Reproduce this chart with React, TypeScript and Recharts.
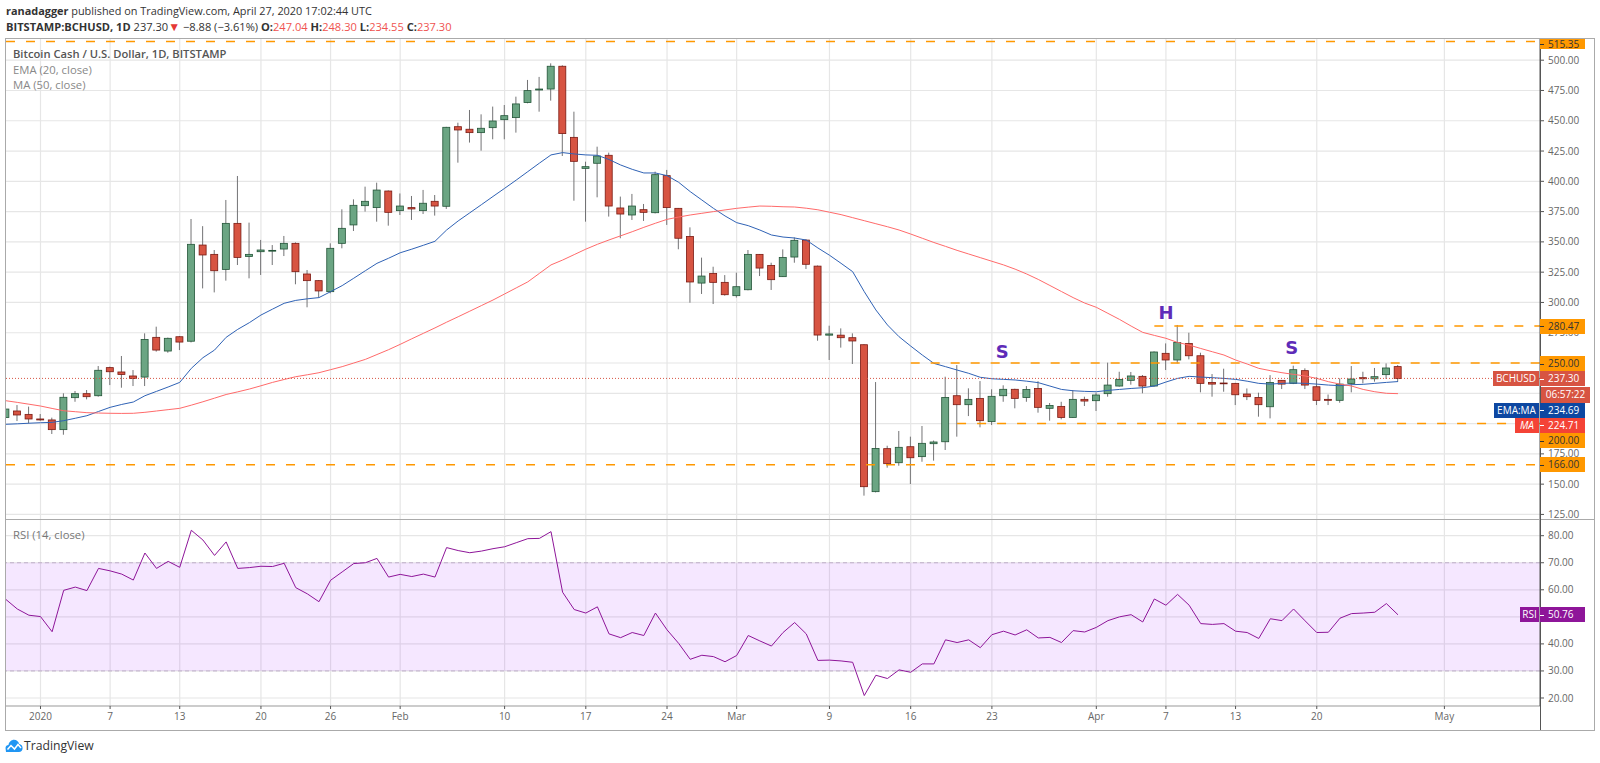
import {
  Bar,
  CartesianGrid,
  ComposedChart,
  Line,
  ReferenceArea,
  ReferenceDot,
  ReferenceLine,
  XAxis,
  YAxis,
} from "recharts";

const FONT = '"Open Sans", sans-serif';

// Candles run one per day; day 0 is Jan 1 2020.
const firstDay = -3;

const opens = [
  205, 210.4, 207.6, 203.8, 203, 195, 221.4, 224.7, 223, 246.2,
  242.6, 239.3, 238.4, 271.2, 259.9, 271.7, 268, 347.4, 339.7, 327.3,
  365.3, 338, 341.9, 342.7, 344.1, 348.8, 323.5, 318, 308.9, 348.8,
  364, 379.9, 378.3, 392, 375.8, 378.3, 375.8, 383.5, 379.4, 445.1,
  443, 440.2, 444.3, 450.9, 452.6, 465, 475.4, 476.2, 495, 436.3,
  410.7, 414.9, 421.5, 378, 372.2, 376.6, 374.1, 404.7, 377.7, 354.5,
  316, 324, 316.6, 305.6, 310.5, 339.7, 330.6, 321.3, 337.5, 351.5,
  330, 273, 273, 270.9, 265.1, 143.8, 179.3, 167.7, 180.9, 172.7,
  183.4, 185, 223, 215.6, 220.8, 201.6, 223, 228.3, 221.6, 229,
  212.6, 214.2, 205.1, 220, 218.9, 224.7, 231, 235.7, 239, 231,
  258, 252.5, 266.2, 256, 234, 233.5, 233.2, 224.4, 221.6, 213.9,
  235.7, 233.2, 243.7, 230.4, 220, 219.2, 233.2, 237.9, 237, 240.4,
  247.04,
];
const highs = [
  213, 215.3, 214, 207.9, 204.9, 225, 226.9, 227.7, 247.5, 247,
  255.8, 244.2, 274.5, 280, 271, 272.3, 368.9, 363, 343.3, 384.6,
  404.4, 365.9, 351.6, 347.4, 354.9, 349.6, 326.8, 318.5, 348.8, 376.9,
  385.1, 395.6, 398.9, 392.5, 390, 387.9, 392.9, 388.7, 445, 448.4,
  458.9, 455.3, 461.7, 463, 469.9, 483.7, 486.2, 497.4, 495.8, 457.5,
  416.2, 428.6, 423.7, 387.4, 389.6, 381.3, 408, 409.4, 378, 362,
  337, 329.5, 322.6, 324.6, 343.3, 340, 332.8, 343.8, 353.7, 352,
  330.5, 280.8, 278.6, 274.5, 265.5, 234.3, 181.7, 193.9, 189.2, 198,
  186, 238.7, 248.3, 229.1, 235.1, 228.3, 231.6, 228.8, 231, 235,
  217, 218, 227.7, 222.2, 225.5, 250.3, 242.8, 242.6, 240.1, 259.6,
  266.2, 281.4, 275, 258.5, 240.9, 245.3, 233.6, 229, 225.5, 240,
  236, 247.8, 245.6, 238.2, 224, 237.3, 247.5, 242.8, 245.9, 249.7,
  248.3,
];
const lows = [
  203, 202.1, 200.2, 202.4, 191.4, 190.8, 218, 220, 222.2, 231.8,
  229.6, 231, 231, 259.4, 258.5, 260.7, 267, 311.6, 308.3, 318,
  330.9, 319.9, 322.7, 330.9, 338.3, 315, 296, 304, 307.5, 344.7,
  359, 375, 366.7, 363.4, 372.2, 368.1, 373, 371.7, 377.2, 415.4,
  432, 425.3, 434.7, 434.7, 440.2, 464.4, 457.5, 466.6, 420.9, 384,
  366.7, 386.8, 370.9, 353, 368.1, 367.3, 373.5, 364, 343.9, 299.8,
  307, 298.7, 305.6, 304, 310, 321.8, 310.3, 321, 332.8, 327.6,
  268.4, 252.5, 262.7, 249.2, 140.5, 143.2, 163.6, 165.2, 150.1, 168.5,
  169.4, 178.2, 189.2, 206.2, 196.9, 198.8, 218, 212.6, 218, 209,
  202.4, 203.5, 204.8, 214.5, 210.4, 222.2, 230.5, 232.1, 225, 230.6,
  244.2, 249.7, 253, 225.8, 222.2, 226.3, 215.3, 219.4, 205.7, 204.3,
  228.5, 232.6, 228.5, 215.3, 215.3, 217.2, 225.8, 233.2, 234.6, 236.8,
  234.55,
];
const closes = [
  212, 207.1, 203.8, 203, 195, 221.7, 224.7, 222.2, 244, 242.8,
  240.6, 237.3, 269.5, 260.7, 270.4, 267.3, 348, 339.2, 326.2, 365.3,
  337.2, 339.7, 343.3, 343, 348.8, 325.4, 318, 309.5, 344.7, 361.2,
  380.2, 383.5, 392.8, 374.4, 379.6, 377.2, 381.9, 379.6, 444.6, 442.4,
  440.2, 443.8, 449.8, 454.2, 463.9, 474.9, 476.2, 495, 439.4, 416.5,
  412.1, 420.9, 379.6, 373, 379.6, 374.4, 405.5, 378.3, 353, 316.9,
  321.8, 316.6, 306.4, 313, 339.7, 328.4, 318.8, 337.2, 351.3, 331.5,
  273.1, 274, 270.9, 268.2, 147.9, 179.5, 166.9, 180.4, 171.8, 183.7,
  184.8, 221.6, 215.6, 220, 202.4, 222.5, 228.3, 220.8, 228.2, 213.4,
  215, 205.1, 220, 218.6, 223.6, 231.8, 236.5, 239.3, 231, 259.1,
  252.5, 267, 256, 233.2, 232.6, 233.2, 223.8, 222.2, 215.6, 234,
  232.6, 244.5, 231.8, 219.2, 219.2, 232.6, 236.8, 237, 238.7, 245.9,
  237.3,
];
const emaValues = [
  199.4, 199.8, 200.3, 200.7, 201, 202.4, 204.4, 206.5, 210, 213.4,
  215.8, 217.8, 223, 226.6, 230.2, 234, 245.6, 254.4, 260.7, 271.2,
  277.8, 283.3, 289.6, 294.5, 299.3, 301.7, 303, 304, 308.9, 313.9,
  320, 326.2, 332.3, 336.5, 341, 344, 347.2, 350.5, 359.8, 367.3,
  374, 380.7, 387.5, 394.2, 401, 408, 415, 421.8, 423.7, 422.6,
  421.8, 421.5, 418, 413.5, 409.9, 406.9, 406.9, 404.7, 399.2, 391.5,
  384.6, 377.7, 371.4, 365.9, 363.4, 359.8, 355.7, 354, 353.2, 351.5,
  345, 339, 332.3, 325.4, 308.9, 293.8, 281.4, 271.7, 264, 256.6,
  249.7, 247, 244.2, 241.5, 238.2, 237, 236.5, 236, 235, 233.8,
  231, 228.2, 227.1, 226.6, 226.3, 227.4, 228.2, 229, 229.6, 231,
  234.3, 237.3, 239, 238.4, 237.9, 237.3, 236.5, 235, 233.2, 232.6,
  233.2, 233.5, 233.2, 232.6, 231.8, 231.3, 232.1, 232.4, 233.2, 234,
  234.69,
];
const maValues = [
  218.9, 217.5, 216, 214.5, 212.5, 210.6, 209.8, 209, 208.7, 208.5,
  208.4, 208.5, 209.3, 210.4, 211.5, 212.6, 215.2, 218, 221, 224,
  226.2, 228.5, 231.2, 234, 236.4, 238.7, 240.3, 242, 244.5, 247,
  250, 253, 257, 261, 265.4, 270, 274.5, 279, 283.7, 288.2,
  292.8, 297.4, 302, 307, 312, 317, 324, 331, 335, 339.5,
  344, 348, 351.6, 355, 358.4, 362, 365.4, 368.6, 370.5, 372.2,
  373.6, 375, 376.4, 377.7, 378.7, 379.6, 379.4, 379, 378.8, 377.8,
  376.5, 374.5, 372.5, 370, 367.5, 365, 362.5, 359.8, 356.5, 353,
  349.5, 346.3, 343, 340, 337, 334, 331, 327.5, 323.5, 319,
  314, 309, 304, 299.5, 296, 291, 286, 280.5, 275.3, 272.8,
  270.4, 267, 264.8, 262, 259.3, 256.6, 252.5, 249.2, 245.6, 243.7,
  242, 240.6, 239.3, 237.3, 234.6, 232.6, 231, 228.2, 226.3, 225,
  224.71,
];
const rsiValues = [
  56.5, 52.9, 50.6, 50.1, 44.5, 59.8, 61, 59.7, 67.9, 67,
  65.8, 63.6, 73.6, 67.9, 70.5, 68.3, 82, 78.4, 72.7, 77.7,
  67.9, 68.2, 68.7, 68.6, 69.8, 60.8, 58.5, 55.6, 63.5, 66.6,
  69.7, 70, 71.6, 64.7, 65.7, 64.9, 65.8, 64.7, 75.6, 74.5,
  73.7, 74.3, 75.2, 75.9, 77.4, 78.9, 79, 81.5, 59.1, 52.7,
  51.4, 53.7, 43.7, 42.3, 44.2, 43.1, 51.4, 45.2, 40.2, 34.3,
  35.8, 35.3, 33.4, 35.7, 43.1, 41.1, 39.2, 44.2, 47.9, 43.7,
  33.9, 34, 33.7, 33.2, 20.9, 28.4, 27.2, 30.4, 29.5, 32.6,
  32.6, 41.5, 40.5, 41.5, 38.6, 43.4, 44.7, 43.3, 45.2, 42.2,
  42.4, 40.5, 44.9, 44.4, 46.1, 48.6, 50, 50.8, 48.1, 56.6,
  54.3, 58.3, 54.3, 47.5, 47.2, 47.5, 44.7, 44.2, 42, 49.3,
  48.6, 52.9, 48.5, 44.2, 44.3, 49.5, 51.2, 51.4, 51.7, 54.9,
  50.76,
];

const tickDays = [0, 6, 12, 19, 25, 31, 40, 47, 54, 60, 68, 75, 82, 91, 97, 103, 110, 121];
const tickLabels = ["2020", "7", "13", "20", "26", "Feb", "10", "17", "24", "Mar", "9", "16", "23", "Apr", "7", "13", "20", "May"];
const priceTicks = [125, 150, 175, 200, 225, 250, 275, 300, 325, 350, 375, 400, 425, 450, 475, 500];
// these scale labels sit fully under the badges in the original
const coveredPriceLabels = [200, 225, 250];
const rsiTicks = [20, 30, 40, 50, 60, 70, 80];

const rows = opens.map((open, i) => ({
  day: firstDay + i,
  open,
  close: closes[i],
  range: [lows[i], highs[i]],
  ema: emaValues[i],
  ma: maValues[i],
}));
const rsiRows = rsiValues.map((rsi, i) => ({ day: firstDay + i, rsi }));

const xDomain: [number, number] = [-2.973, 129.24];

function Candle(props: any) {
  const { x, y, width, height, payload } = props;
  const [low, high] = payload.range;
  const toY = (v: number) => y + ((high - v) / (high - low)) * height;
  const up = payload.close >= payload.open;
  const cx = x + width / 2;
  const top = toY(Math.max(payload.open, payload.close));
  const bottom = toY(Math.min(payload.open, payload.close));
  return (
    <g>
      <line x1={cx} x2={cx} y1={y} y2={y + height} stroke="#737375" strokeWidth={1} />
      <rect
        x={cx - 3.5}
        y={top}
        width={7}
        height={Math.max(bottom - top, 0.8)}
        fill={up ? "#6ba583" : "#d75442"}
        stroke={up ? "#225437" : "#7a1a12"}
        strokeWidth={0.8}
      />
    </g>
  );
}

function Letter({ day, value, text }: { day: number; value: number; text: string }) {
  return (
    <ReferenceDot
      x={day}
      y={value}
      r={0}
      stroke="none"
      fill="none"
      ifOverflow="visible"
      label={{ value: text, position: "center", fill: "#5e2bb8", fontSize: 18, fontWeight: 700, fontFamily: '"DejaVu Sans", sans-serif' }}
    />
  );
}

function Level({ value, from, to = xDomain[1] }: { value: number; from: number; to?: number }) {
  return (
    <ReferenceLine
      segment={[{ x: from, y: value }, { x: to, y: value }]}
      stroke="#ff9800"
      strokeWidth={1.5}
      strokeDasharray="9 11"
    />
  );
}

function Badge(props: {
  top: number;
  height?: number;
  left?: number;
  width?: number;
  bg: string;
  color?: string;
  text: string;
  italic?: boolean;
  tick?: boolean;
}) {
  const { top, height = 15, left = 1540, width = 45, bg, color = "#fff", text, italic, tick } = props;
  return (
    <div
      style={{
        position: "absolute",
        left,
        top,
        width,
        height,
        lineHeight: height + "px",
        background: bg,
        color,
        fontSize: 10,
        textAlign: tick ? "left" : "center",
        paddingLeft: tick ? 8 : 0,
        boxSizing: "border-box",
        fontStyle: italic ? "italic" : "normal",
        overflow: "hidden",
      }}
    >
      {tick && <div style={{ position: "absolute", left: 0, top: height / 2, width: 4, height: 1, background: color }} />}
      {text}
    </div>
  );
}

function TvLogo() {
  return (
    <svg width={18} height={14} viewBox="0 0 18 14" style={{ position: "absolute", left: 5, top: 739 }}>
      <path
        d="M1 13 L0.5 9 C0.5 7 2 6 3.5 6 C4 3 6.5 0.8 9 0.8 C11.5 0.8 13.6 2.6 14.2 5 C16.2 5.3 17.6 7 17.6 9 C17.6 11.5 16 13 14 13 Z"
        fill="#2196f3"
      />
      <path d="M2.5 10.5 L6 6.5 L9.5 10 L13 5.5 L16 9" stroke="#fff" strokeWidth={1.5} fill="none" />
    </svg>
  );
}

export default function App() {
  return (
    <div
      style={{
        position: "absolute",
        left: 0,
        top: 0,
        width: 1600,
        height: 763,
        background: "#fff",
        overflow: "hidden",
        fontFamily: FONT,
      }}
    >
      {/* header lines above the frame */}
      <div style={{ position: "absolute", left: 6, top: 3, fontSize: 10.9, lineHeight: "16px", color: "#333", whiteSpace: "nowrap" }}>
        <b>ranadagger</b> published on TradingView.com, April 27, 2020 17:02:44 UTC
      </div>
      <div style={{ position: "absolute", left: 6, top: 18.5, fontSize: 11.1, lineHeight: "16px", color: "#333", whiteSpace: "nowrap" }}>
        <b>BITSTAMP:BCHUSD, 1D</b> 237.30<span style={{ color: "#e53935", fontSize: 12 }}>▼</span> −8.88 (−3.61%) <b>O:</b>
        <span style={{ color: "#ef5350" }}>247.04</span> <b>H:</b>
        <span style={{ color: "#ef5350" }}>248.30</span> <b>L:</b>
        <span style={{ color: "#ef5350" }}>234.55</span> <b>C:</b>
        <span style={{ color: "#ef5350" }}>237.30</span>
      </div>

      {/* price panel */}
      <div style={{ position: "absolute", left: 0, top: 39 }}>
        <ComposedChart width={1600} height={481} data={rows} margin={{ top: 0, right: 0, bottom: 0, left: 6 }}>
          <CartesianGrid stroke="#e6e6e6" strokeWidth={1.2} verticalValues={tickDays} horizontalValues={priceTicks} />
          <XAxis dataKey="day" type="number" domain={xDomain} allowDataOverflow ticks={tickDays} hide />
          <YAxis
            orientation="right"
            width={60}
            domain={[120.4, 517.5]}
            allowDataOverflow
            ticks={priceTicks}
            interval={0}
            tickSize={4}
            tickMargin={4}
            tick={{ fontSize: 10, fill: "#666", fontFamily: FONT }}
            tickFormatter={(v: number) => (coveredPriceLabels.includes(v) ? "" : v.toFixed(2))}
            axisLine={{ stroke: "#555" }}
            tickLine={{ stroke: "#555" }}
          />
          <Bar dataKey="range" barSize={7} shape={<Candle />} isAnimationActive={false} />
          <Line dataKey="ema" stroke="#2f62b5" strokeWidth={1} dot={false} isAnimationActive={false} />
          <Line dataKey="ma" stroke="#ff6a6a" strokeWidth={1} dot={false} isAnimationActive={false} />
          <ReferenceLine y={237.3} stroke="#d75442" strokeDasharray="1 2" strokeWidth={1} />
          <Level value={515.35} from={xDomain[0]} />
          <Level value={280.47} from={96} />
          <Level value={250} from={75} />
          <Level value={200} from={79} />
          <Level value={166} from={xDomain[0]} />
          <Letter day={82.9} value={259.3} text="S" />
          <Letter day={97} value={291.5} text="H" />
          <Letter day={107.85} value={262.7} text="S" />
        </ComposedChart>
      </div>

      {/* RSI panel */}
      <div style={{ position: "absolute", left: 0, top: 520 }}>
        <ComposedChart width={1600} height={210} data={rsiRows} margin={{ top: 0, right: 0, bottom: 0, left: 6 }}>
          <CartesianGrid stroke="#e6e6e6" strokeWidth={1.2} verticalValues={tickDays} horizontalValues={rsiTicks} />
          <XAxis
            dataKey="day"
            type="number"
            domain={xDomain}
            allowDataOverflow
            ticks={tickDays}
            interval={0}
            height={24}
            tickSize={3}
            tickMargin={4}
            tick={{ fontSize: 10, fill: "#666", fontFamily: FONT }}
            tickFormatter={(d: number) => tickLabels[tickDays.indexOf(d)]}
            axisLine={{ stroke: "#999" }}
            tickLine={{ stroke: "#555" }}
          />
          <YAxis
            orientation="right"
            width={60}
            domain={[17.04, 85.8]}
            allowDataOverflow
            ticks={rsiTicks}
            interval={0}
            tickSize={4}
            tickMargin={4}
            tick={{ fontSize: 10, fill: "#666", fontFamily: FONT }}
            tickFormatter={(v: number) => v.toFixed(2)}
            axisLine={{ stroke: "#555" }}
            tickLine={{ stroke: "#555" }}
          />
          <ReferenceArea y1={30} y2={70} fill="#9915ff" fillOpacity={0.1} stroke="none" />
          <ReferenceLine y={70} stroke="#bfb0c8" strokeDasharray="4 3" />
          <ReferenceLine y={30} stroke="#bfb0c8" strokeDasharray="4 3" />
          <Line dataKey="rsi" stroke="#8e1599" strokeWidth={1} dot={false} isAnimationActive={false} />
        </ComposedChart>
      </div>

      {/* frame and panel separator */}
      <div style={{ position: "absolute", left: 5, top: 38, width: 1588, height: 691, border: "1px solid #aaa", pointerEvents: "none" }} />
      <div style={{ position: "absolute", left: 5, top: 519, width: 1589, height: 1, background: "#aaa" }} />
      <div style={{ position: "absolute", left: 1540, top: 39, width: 1, height: 691, background: "#555" }} />

      {/* legends */}
      <div style={{ position: "absolute", left: 13, top: 46, fontSize: 11.2, fontWeight: 600, lineHeight: "16px", color: "#555" }}>
        Bitcoin Cash / U.S. Dollar, 1D, BITSTAMP
      </div>
      <div style={{ position: "absolute", left: 13, top: 62, fontSize: 11.3, lineHeight: "15px", color: "#888" }}>EMA (20, close)</div>
      <div style={{ position: "absolute", left: 13, top: 77, fontSize: 11.3, lineHeight: "15px", color: "#888" }}>MA (50, close)</div>
      <div style={{ position: "absolute", left: 13, top: 527, fontSize: 11.3, lineHeight: "16px", color: "#777" }}>RSI (14, close)</div>

      {/* price scale badges */}
      <Badge top={39} height={10} bg="#ff9800" color="#333" text="515.35" tick />
      <Badge top={318.5} bg="#ff9800" color="#333" text="280.47" tick />
      <Badge top={356} bg="#ff9800" color="#333" text="250.00" tick />
      <Badge top={371} bg="#d75442" text="237.30" tick />
      <Badge top={371} left={1493} width={46} bg="#d75442" text="BCHUSD" />
      <Badge top={387} left={1541} width={49} height={15.5} bg="#d75442" text="06:57:22" />
      <Badge top={402.5} bg="#0d47a1" text="234.69" tick />
      <Badge top={402.5} left={1494} width={45} bg="#0d47a1" text="EMA:MA" />
      <Badge top={417.5} bg="#f44336" text="224.71" tick />
      <Badge top={417.5} left={1515} width={24} bg="#f44336" text="MA" italic />
      <Badge top={433} bg="#ff9800" color="#333" text="200.00" tick />
      <Badge top={457} bg="#ff9800" color="#333" text="166.00" tick />
      <Badge top={607} bg="#8e1599" text="50.76" tick />
      <Badge top={607} left={1520} width={19} bg="#8e1599" text="RSI" />

      <TvLogo />
      <div style={{ position: "absolute", left: 24, top: 738, fontSize: 12.2, lineHeight: "16px", color: "#333" }}>TradingView</div>
    </div>
  );
}
